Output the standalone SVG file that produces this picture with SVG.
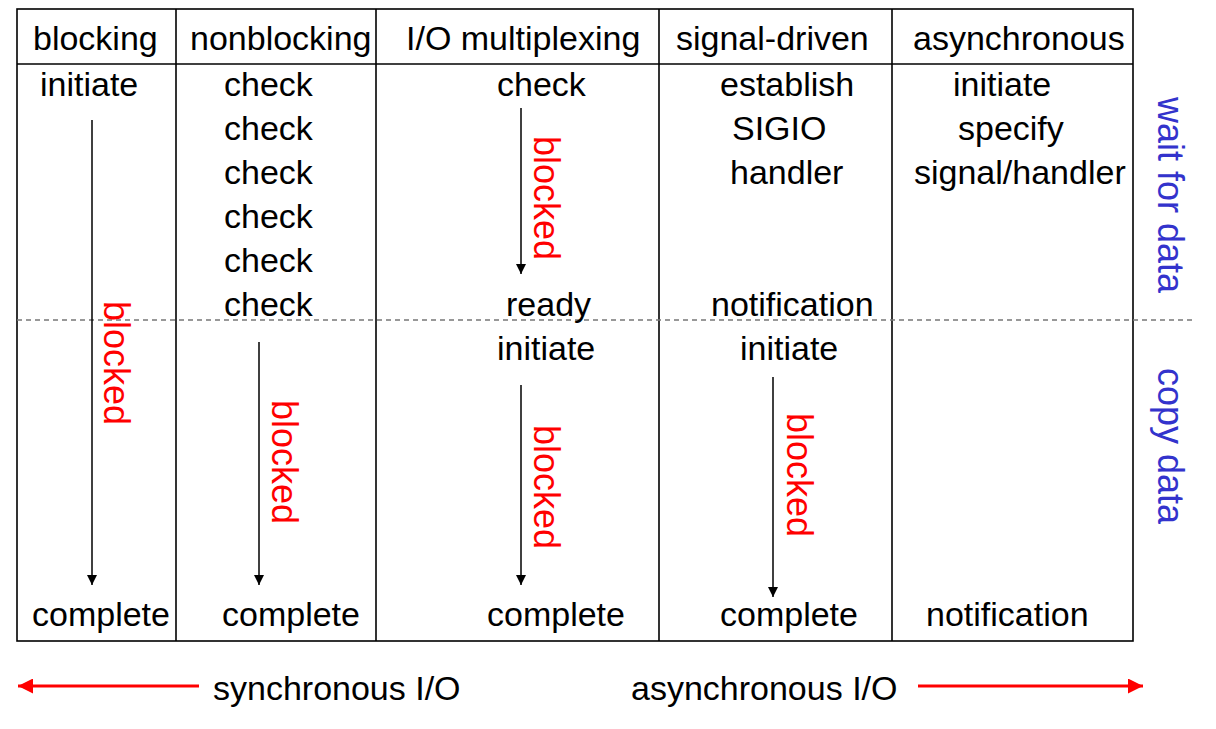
<svg xmlns="http://www.w3.org/2000/svg" width="1216" height="729" viewBox="0 0 1216 729">
<style>
text{font-family:"Liberation Sans",Arial,sans-serif;font-size:34px;fill:#000}
.red{fill:#ff0000;font-size:36px}
.blue{fill:#3333cc;font-size:36px}
.grid{stroke:#000;stroke-width:1.6;fill:none}
.conn{stroke:#000;stroke-width:1.5;fill:none}
.rarrow{stroke:#ff0000;stroke-width:3;fill:none}
</style>
<defs>
<marker id="ah" viewBox="0 0 10 10" refX="10" refY="5" markerWidth="10" markerHeight="10" markerUnits="userSpaceOnUse" orient="auto">
<path d="M0,0 L10,5 L0,10 Z" fill="#000"/>
</marker>
<marker id="rh" viewBox="0 0 10 10" refX="10" refY="5" markerWidth="15" markerHeight="15" markerUnits="userSpaceOnUse" orient="auto">
<path d="M0,0 L10,5 L0,10 Z" fill="#ff0000"/>
</marker>
</defs>
<rect width="1216" height="729" fill="#fff"/>
<g id="table">
<rect class="grid" x="17" y="9" width="1116" height="632"/>
<line class="grid" x1="17" y1="64" x2="1133" y2="64"/>
<line class="grid" x1="176" y1="9" x2="176" y2="641"/>
<line class="grid" x1="376" y1="9" x2="376" y2="641"/>
<line class="grid" x1="659" y1="9" x2="659" y2="641"/>
<line class="grid" x1="892" y1="9" x2="892" y2="641"/>
<line x1="17" y1="320" x2="1193" y2="320" stroke="#777" stroke-width="1.5" stroke-dasharray="5,4"/>
</g>
<g id="col-blocking">
<text x="33" y="50">blocking</text>
<text x="40" y="96">initiate</text>
<text x="32" y="626">complete</text>
<text class="red" transform="translate(104,301) rotate(90)">blocked</text>
</g>
<g id="col-nonblocking">
<text x="190" y="50">nonblocking</text>
<text x="224" y="96">check</text>
<text x="224" y="140">check</text>
<text x="224" y="184">check</text>
<text x="224" y="228">check</text>
<text x="224" y="272">check</text>
<text x="224" y="316">check</text>
<text x="222" y="626">complete</text>
<text class="red" transform="translate(272,400) rotate(90)">blocked</text>
</g>
<g id="col-multiplexing">
<text x="406" y="50">I/O multiplexing</text>
<text x="497" y="96">check</text>
<text x="506" y="316">ready</text>
<text x="497" y="360">initiate</text>
<text x="487" y="626">complete</text>
<text class="red" transform="translate(534,136) rotate(90)">blocked</text>
<text class="red" transform="translate(534,425) rotate(90)">blocked</text>
</g>
<g id="col-signal">
<text x="676" y="50">signal-driven</text>
<text x="720" y="96">establish</text>
<text x="732" y="140">SIGIO</text>
<text x="730" y="184">handler</text>
<text x="711" y="316">notification</text>
<text x="740" y="360">initiate</text>
<text x="720" y="626">complete</text>
<text class="red" transform="translate(787,413) rotate(90)">blocked</text>
</g>
<g id="col-async">
<text x="913" y="50">asynchronous</text>
<text x="953" y="96">initiate</text>
<text x="958" y="140">specify</text>
<text x="914" y="184">signal/handler</text>
<text x="926" y="626">notification</text>
</g>
<g id="side-labels">
<text class="blue" transform="translate(1158,97) rotate(90)">wait for data</text>
<text class="blue" transform="translate(1158,368) rotate(90)">copy data</text>
</g>
<g id="bottom-labels">
<text x="213" y="700">synchronous I/O</text>
<text x="631" y="700">asynchronous I/O</text>
</g>
<g id="connectors">
<line class="conn" x1="92" y1="120" x2="92" y2="585" marker-end="url(#ah)"/>
<line class="conn" x1="259" y1="342" x2="259" y2="585" marker-end="url(#ah)"/>
<line class="conn" x1="521" y1="108" x2="521" y2="274" marker-end="url(#ah)"/>
<line class="conn" x1="521" y1="385" x2="521" y2="585" marker-end="url(#ah)"/>
<line class="conn" x1="773" y1="377" x2="773" y2="597" marker-end="url(#ah)"/>
<line class="rarrow" x1="199" y1="686" x2="18" y2="686" marker-end="url(#rh)"/>
<line class="rarrow" x1="918" y1="686" x2="1143" y2="686" marker-end="url(#rh)"/>
</g>
</svg>
